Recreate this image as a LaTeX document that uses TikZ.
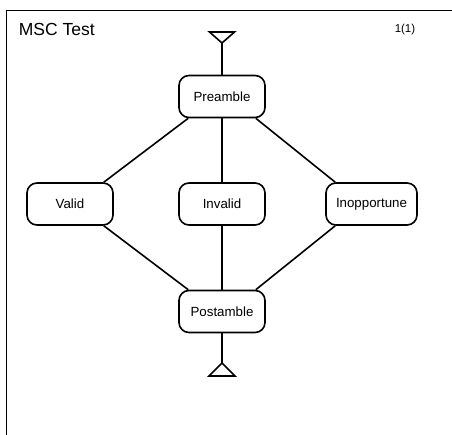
\documentclass[tikz,border=0pt]{standalone}
\usepackage{fontspec}
\setmainfont{Liberation Sans}
\usetikzlibrary{calc}

\begin{document}
\begin{tikzpicture}[x=1pt,y=-1pt,line width=1.6pt,
  box/.style={draw,rectangle,rounded corners=10pt,minimum width=86pt,minimum height=42pt,
    font=\fontsize{13.3}{16}\selectfont}]
\useasboundingbox (0,0) rectangle (452,435);

% frame with heading
\draw[line width=1.9pt] (6.5,435) -- (6.5,10.5) -- (452,10.5);
\node[anchor=base west,inner sep=0pt,font=\fontsize{17.5}{20}\selectfont] (title) at (18,36) {MSC Test};
\node[anchor=base east,inner sep=0pt,font=\fontsize{11.5}{14}\selectfont] (page) at (416,33) {1(1)};

% start and end symbols
\coordinate (start) at (222,43);
\draw (start) -- ++(-12.5,-11) -- ++(25,0) -- cycle;
\coordinate (stop) at (222,363);
\draw (stop) -- ++(-13,13) -- ++(26,0) -- cycle;

\node[box] (pre) at (222,96.5) {Preamble};
\node[box] (valid) at (70,204) {Valid};
\node[box] (invalid) at (222,204) {Invalid};
\node[box,minimum width=91pt] (inopp) at (371.5,204) {Inopportune};
\node[box] (post) at (222,311.5) {Postamble};

\draw (start) -- (pre);
\draw ([xshift=10pt]pre.south west) -- ([xshift=-10pt]valid.north east);
\draw (pre) -- (invalid);
\draw ([xshift=-10pt]pre.south east) -- ([xshift=10pt]inopp.north west);
\draw ([xshift=-10pt]valid.south east) -- ([xshift=10pt]post.north west);
\draw (invalid) -- (post);
\draw ([xshift=10pt]inopp.south west) -- ([xshift=-10pt]post.north east);
\draw (post) -- (stop);
\end{tikzpicture}
\end{document}
